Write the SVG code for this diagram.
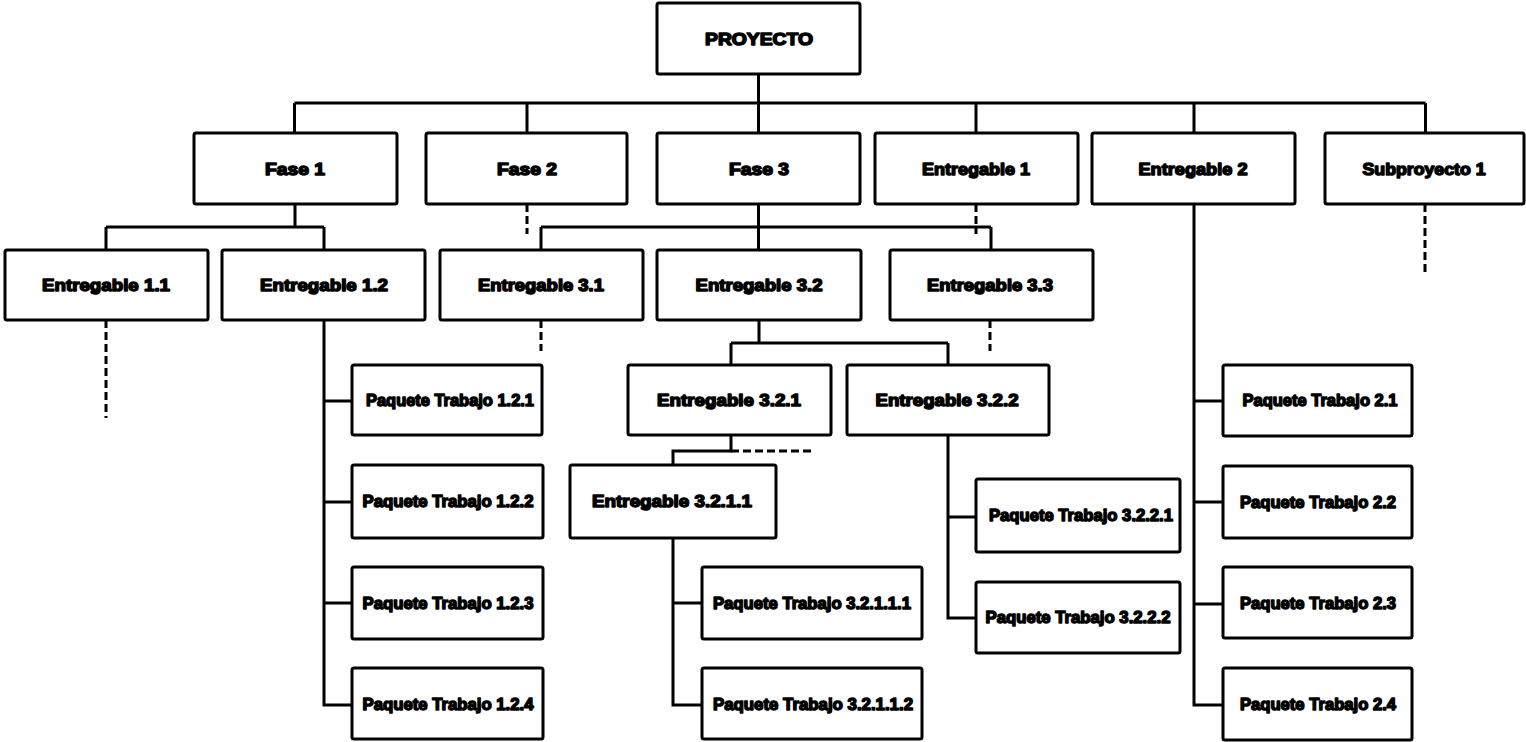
<svg xmlns="http://www.w3.org/2000/svg" width="1526" height="742" viewBox="0 0 1526 742">
  <style>
    .box { fill: #fff; stroke: #000; stroke-width: 3; }
    .lbl { font-family: "Liberation Sans", Arial, sans-serif; font-weight: bold; font-size: 17px; fill: #000; stroke: #000; stroke-width: 1.5; stroke-linejoin: round; text-anchor: middle; }
    .ln { fill: none; stroke: #000; stroke-width: 3; }
    .dash { fill: none; stroke: #000; stroke-width: 3; stroke-dasharray: 8 4; }
  </style>
  <rect width="1526" height="742" fill="#fff"/>

  <!-- connectors -->
  <g id="connectors">
    <!-- project to top level -->
    <path class="ln" d="M758.5 74 V103 M294.5 103 H1425.5 M294.5 103 V133 M527 103 V133 M758.5 103 V133 M976 103 V133 M1194 103 V133 M1425.5 103 V133"/>
    <!-- Fase 1 -->
    <path class="ln" d="M295 204 V227 M106 227 H324 M106 227 V250 M324 227 V250"/>
    <!-- Fase 3 -->
    <path class="ln" d="M758.5 204 V227 M541 227 H991 M541 227 V250 M758.5 227 V250 M991 227 V250"/>
    <!-- Entregable 3.2 -->
    <path class="ln" d="M759 320 V343 M731 343 H948 M731 343 V365 M948 343 V365"/>
    <!-- Entregable 3.2.1 -->
    <path class="ln" d="M731 435 V451 H673 V465"/>
    <path class="dash" d="M731 451 H813"/>
    <!-- Entregable 1.2 work packages -->
    <path class="ln" d="M324 320 V705 H352 M324 401 H352 M324 502 H352 M324 603 H352"/>
    <!-- Entregable 3.2.1.1 work packages -->
    <path class="ln" d="M673 538 V705 H702 M673 603 H702"/>
    <!-- Entregable 3.2.2 work packages -->
    <path class="ln" d="M948 435 V618 H976 M948 517 H976"/>
    <!-- Entregable 2 work packages -->
    <path class="ln" d="M1194 204 V705 H1223 M1194 401 H1223 M1194 502 H1223 M1194 604 H1223"/>
    <!-- open-ended branches -->
    <path class="dash" d="M527 204 V234 M976 204 V234 M1425 204 V276 M106 320 V418 M541 320 V351 M990 320 V351"/>
  </g>

  <g id="proyecto"><rect class="box" x="657" y="3" width="203" height="71" rx="2"/><text class="lbl" x="759" y="45" textLength="108" lengthAdjust="spacingAndGlyphs">PROYECTO</text></g>

  <g id="fase1"><rect class="box" x="194" y="133" width="203" height="71" rx="2"/><text class="lbl" x="295" y="175" textLength="60" lengthAdjust="spacingAndGlyphs">Fase 1</text></g>
  <g id="fase2"><rect class="box" x="426" y="133" width="201" height="71" rx="2"/><text class="lbl" x="527" y="175" textLength="60" lengthAdjust="spacingAndGlyphs">Fase 2</text></g>
  <g id="fase3"><rect class="box" x="657" y="133" width="203" height="71" rx="2"/><text class="lbl" x="759" y="175" textLength="60" lengthAdjust="spacingAndGlyphs">Fase 3</text></g>
  <g id="entregable1"><rect class="box" x="875" y="133" width="203" height="71" rx="2"/><text class="lbl" x="976" y="175" textLength="108" lengthAdjust="spacingAndGlyphs">Entregable 1</text></g>
  <g id="entregable2"><rect class="box" x="1092" y="133" width="203" height="71" rx="2"/><text class="lbl" x="1193" y="175" textLength="109" lengthAdjust="spacingAndGlyphs">Entregable 2</text></g>
  <g id="subproyecto1"><rect class="box" x="1325" y="133" width="199" height="71" rx="2"/><text class="lbl" x="1424" y="175" textLength="123" lengthAdjust="spacingAndGlyphs">Subproyecto 1</text></g>

  <g id="entregable11"><rect class="box" x="5" y="250" width="203" height="70" rx="2"/><text class="lbl" x="106" y="291" textLength="128" lengthAdjust="spacingAndGlyphs">Entregable 1.1</text></g>
  <g id="entregable12"><rect class="box" x="222" y="250" width="203" height="70" rx="2"/><text class="lbl" x="324" y="291" textLength="128" lengthAdjust="spacingAndGlyphs">Entregable 1.2</text></g>
  <g id="entregable31"><rect class="box" x="440" y="250" width="203" height="70" rx="2"/><text class="lbl" x="541" y="291" textLength="126" lengthAdjust="spacingAndGlyphs">Entregable 3.1</text></g>
  <g id="entregable32"><rect class="box" x="657" y="250" width="204" height="70" rx="2"/><text class="lbl" x="759" y="291" textLength="127" lengthAdjust="spacingAndGlyphs">Entregable 3.2</text></g>
  <g id="entregable33"><rect class="box" x="890" y="250" width="203" height="70" rx="2"/><text class="lbl" x="990" y="291" textLength="126" lengthAdjust="spacingAndGlyphs">Entregable 3.3</text></g>

  <g id="entregable321"><rect class="box" x="628" y="365" width="203" height="70" rx="2"/><text class="lbl" x="729" y="406" textLength="144" lengthAdjust="spacingAndGlyphs">Entregable 3.2.1</text></g>
  <g id="entregable322"><rect class="box" x="847" y="365" width="202" height="70" rx="2"/><text class="lbl" x="947" y="406" textLength="143" lengthAdjust="spacingAndGlyphs">Entregable 3.2.2</text></g>
  <g id="entregable3211"><rect class="box" x="570" y="465" width="206" height="73" rx="2"/><text class="lbl" x="672" y="507" textLength="160" lengthAdjust="spacingAndGlyphs">Entregable 3.2.1.1</text></g>

  <g id="paquete121"><rect class="box" x="352" y="365" width="190" height="70" rx="2"/><text class="lbl" x="450" y="406" textLength="168" lengthAdjust="spacingAndGlyphs">Paquete Trabajo 1.2.1</text></g>
  <g id="paquete122"><rect class="box" x="352" y="465" width="191" height="73" rx="2"/><text class="lbl" x="448" y="507" textLength="171" lengthAdjust="spacingAndGlyphs">Paquete Trabajo 1.2.2</text></g>
  <g id="paquete123"><rect class="box" x="352" y="567" width="191" height="72" rx="2"/><text class="lbl" x="448" y="609" textLength="171" lengthAdjust="spacingAndGlyphs">Paquete Trabajo 1.2.3</text></g>
  <g id="paquete124"><rect class="box" x="352" y="668" width="191" height="71" rx="2"/><text class="lbl" x="448" y="710" textLength="171" lengthAdjust="spacingAndGlyphs">Paquete Trabajo 1.2.4</text></g>

  <g id="paquete32111"><rect class="box" x="702" y="567" width="220" height="72" rx="2"/><text class="lbl" x="812" y="609" textLength="198" lengthAdjust="spacingAndGlyphs">Paquete Trabajo 3.2.1.1.1</text></g>
  <g id="paquete32112"><rect class="box" x="702" y="668" width="220" height="71" rx="2"/><text class="lbl" x="813" y="710" textLength="200" lengthAdjust="spacingAndGlyphs">Paquete Trabajo 3.2.1.1.2</text></g>

  <g id="paquete3221"><rect class="box" x="976" y="479" width="204" height="73" rx="2"/><text class="lbl" x="1081" y="521" textLength="184" lengthAdjust="spacingAndGlyphs">Paquete Trabajo 3.2.2.1</text></g>
  <g id="paquete3222"><rect class="box" x="976" y="582" width="204" height="71" rx="2"/><text class="lbl" x="1078" y="623" textLength="185" lengthAdjust="spacingAndGlyphs">Paquete Trabajo 3.2.2.2</text></g>

  <g id="paquete21"><rect class="box" x="1223" y="365" width="189" height="71" rx="2"/><text class="lbl" x="1320" y="406" textLength="155" lengthAdjust="spacingAndGlyphs">Paquete Trabajo 2.1</text></g>
  <g id="paquete22"><rect class="box" x="1223" y="466" width="189" height="72" rx="2"/><text class="lbl" x="1318" y="508" textLength="156" lengthAdjust="spacingAndGlyphs">Paquete Trabajo 2.2</text></g>
  <g id="paquete23"><rect class="box" x="1223" y="567" width="189" height="71" rx="2"/><text class="lbl" x="1318" y="609" textLength="156" lengthAdjust="spacingAndGlyphs">Paquete Trabajo 2.3</text></g>
  <g id="paquete24"><rect class="box" x="1223" y="668" width="189" height="72" rx="2"/><text class="lbl" x="1318" y="710" textLength="156" lengthAdjust="spacingAndGlyphs">Paquete Trabajo 2.4</text></g>
</svg>
